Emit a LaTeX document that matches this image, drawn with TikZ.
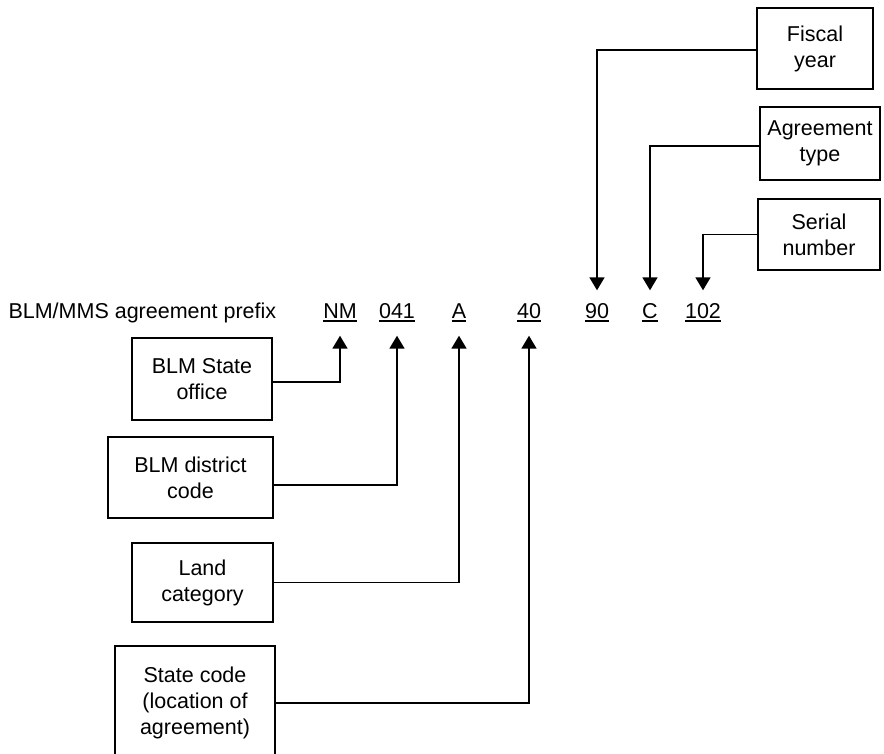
\documentclass[tikz,border=0pt]{standalone}
\usepackage{fontspec}
\setmainfont{Liberation Sans}
\usetikzlibrary{arrows.meta}
\newcommand{\codeul}[1]{\setbox0\hbox{#1}\rlap{\rule[-3pt]{\wd0}{1.6pt}}\box0}

\begin{document}
\begin{tikzpicture}[x=1pt,y=-1pt,
	every node/.style={font=\fontsize{21.5}{26}\selectfont},
	field/.style={draw,line width=1.8pt,align=center,inner sep=0pt},
	code/.style={inner sep=0pt,minimum height=45pt,text height=15pt,text depth=3pt},
	link/.style={line width=1.8pt},
	>={Triangle[width=15pt,length=13pt]}]
	\clip (0,0) rectangle (884,754);
	\node[anchor=base west] (prefix) at (5,319) {BLM/MMS agreement prefix};
	\node[code] (nm) at (340,313) {\codeul{NM}};
	\node[code] (dist) at (397,313) {\codeul{041}};
	\node[code] (cat) at (459,313) {\codeul{A}};
	\node[code] (st) at (529,313) {\codeul{40}};
	\node[code] (fy) at (597,313) {\codeul{90}};
	\node[code] (ty) at (650,313) {\codeul{C}};
	\node[code] (ser) at (703,313) {\codeul{102}};
	\node[field,minimum width=116pt,minimum height=81pt] (fiscal) at (815,48.5) {Fiscal\\year};
	\node[field,minimum width=120pt,minimum height=73pt] (type) at (820,143.5) {Agreement\\type};
	\node[field,minimum width=122pt,minimum height=71pt] (serial) at (819,234.5) {Serial\\number};
	\node[field,minimum width=140pt,minimum height=82pt] (office) at (202,379) {BLM State\\office};
	\node[field,minimum width=165pt,minimum height=81pt] (district) at (190.5,477.5) {BLM district\\code};
	\node[field,minimum width=141pt,minimum height=79pt] (land) at (202.5,582.5) {Land\\category};
	\node[field,minimum width=160pt,minimum height=114pt] (state) at (195,703) {State code\\(location of\\agreement)};
	\draw[link,->] ([yshift=-1.5pt]fiscal.west) -| (fy.north);
	\draw[link,->] ([yshift=-2.5pt]type.west) -| (ty.north);
	\draw[link,->] (serial.west) -| (ser.north);
	\draw[link,->] ([yshift=-3pt]office.east) -| (nm.south);
	\draw[link,->] ([yshift=-7.5pt]district.east) -| (dist.south);
	\draw[link,->] (land.east) -| (cat.south);
	\draw[link,->] (state.east) -| (st.south);
\end{tikzpicture}
\end{document}
